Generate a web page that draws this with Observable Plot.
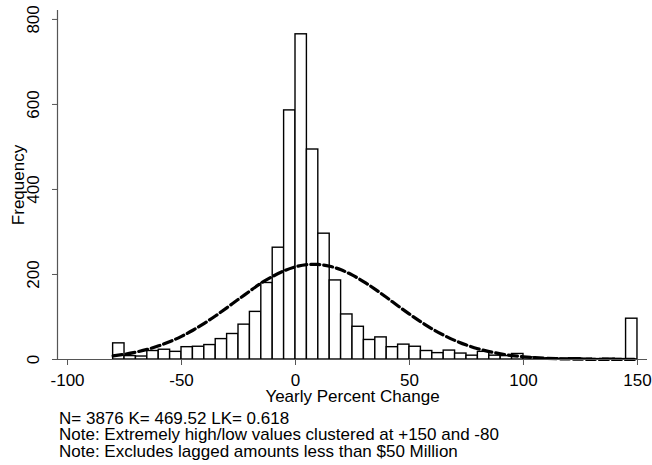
<!DOCTYPE html>
<html>
<head>
<meta charset="utf-8">
<script src="https://cdn.jsdelivr.net/npm/d3@7"></script>
<script src="https://cdn.jsdelivr.net/npm/@observablehq/plot@0.6"></script>
<style>
  html, body { margin: 0; padding: 0; background: #fff; }
  #notes { font-family: "Liberation Sans", Arial, sans-serif; font-size: 17px; line-height: 16.3px; color: #000; padding-left: 59px; margin-top: 6px; white-space: nowrap; }
</style>
</head>
<body>
<div id="chart"></div>
<div id="notes"></div>
<script>
// Histogram bins (lower edge, width 5) and counts
const binStart = [-80,-75,-70,-65,-60,-55,-50,-45,-40,-35,-30,-25,-20,-15,-10,-5,0,5,10,15,20,25,30,35,40,45,50,55,60,65,70,75,80,85,90,95,100,105,110,115,120,125,130,135,140,145];
const counts   = [38,8,7,20,23,18,29,30,34,48,60,82,112,180,263,586,765,494,296,186,106,77,46,52,29,35,30,20,15,21,14,9,18,9,8,13,5,2,3,2,3,2,1,2,1,96];
const binWidth = 5;

// Dashed normal-density overlay
const curveX = [-80,-75,-70,-65,-60,-55,-50,-45,-40,-35,-30,-25,-20,-15,-10,-5,0,5,10,15,20,25,30,35,40,45,50,55,60,65,70,75,80,85,90,95,100,105,110,115,120,125,130,135,140,145,150];
const curveY = [8.7,12.4,17.4,23.9,32.1,42.3,54.5,68.8,85.1,103,122.1,141.8,161.1,180,195.5,208.7,218.1,223.2,223.6,219.4,210.9,198.4,182.8,164.9,145.7,126,106.8,88.6,71.9,57.2,44.6,34,25.4,18.6,13.3,9.3,6.4,4.3,2.8,1.8,1.2,0.7,0.4,0.25,0.15,0.1,0.05];

const xTicks = [-100,-50,0,50,100,150];
const yTicks = [0,200,400,600,800];
const xLabel = "Yearly Percent Change";
const yLabel = "Frequency";
const notes = [
  "N= 3876 K= 469.52 LK= 0.618",
  "Note: Extremely high/low values clustered at +150 and -80",
  "Note: Excludes lagged amounts less than $50 Million"
];

const bars = binStart.map((b, i) => ({x1: b, x2: b + binWidth, y: counts[i]}));
const curve = curveX.map((x, i) => ({x, y: curveY[i]}));

const font = "'Liberation Sans', Arial, sans-serif";
const axisColor = "#555";

const chart = Plot.plot({
  width: 652,
  height: 405,
  marginLeft: 57,
  marginRight: 5,
  marginTop: 10,
  marginBottom: 46,
  style: {fontFamily: font, fontSize: "17px", background: "#fff", color: "#000", overflow: "visible"},
  x: {domain: [-104.4, 154.4], axis: null},
  y: {domain: [0, 821], axis: null},
  marks: [
    Plot.rectY(bars, {x1: "x1", x2: "x2", y: "y", fill: "#fff", stroke: "#000", strokeWidth: 1.4, inset: 0}),
    Plot.line(curve, {x: "x", y: "y", stroke: "#000", strokeWidth: 3.2, strokeDasharray: "9,4", curve: "natural"}),
    Plot.ruleY([0], {stroke: axisColor, strokeWidth: 1.2}),
    Plot.ruleX([-104.4], {stroke: axisColor, strokeWidth: 1.2}),
    Plot.axisX({ticks: xTicks, tickSize: 6, tickPadding: 8, stroke: axisColor, fill: "#000", fontSize: 17, label: null, tickFormat: d => String(d)}),
    Plot.axisY({ticks: yTicks, tickSize: 5, stroke: axisColor, label: null, tickFormat: () => ""}),
    Plot.text(yTicks, {y: d => d, text: d => String(d), frameAnchor: "left", textAnchor: "middle", lineAnchor: "middle", dx: -24, rotate: -90, fontSize: 17, fill: "#000"}),
    Plot.text([yLabel], {frameAnchor: "left", textAnchor: "middle", lineAnchor: "middle", dx: -39, rotate: -90, fontSize: 17, fill: "#000"}),
    Plot.text([xLabel], {frameAnchor: "bottom", textAnchor: "middle", lineAnchor: "middle", dy: 36.6, fontSize: 17, fill: "#000"})
  ]
});
document.getElementById("chart").appendChild(chart);
const notesDiv = document.getElementById("notes");
notes.forEach(t => { const d = document.createElement("div"); d.textContent = t; notesDiv.appendChild(d); });
</script>
</body>
</html>
